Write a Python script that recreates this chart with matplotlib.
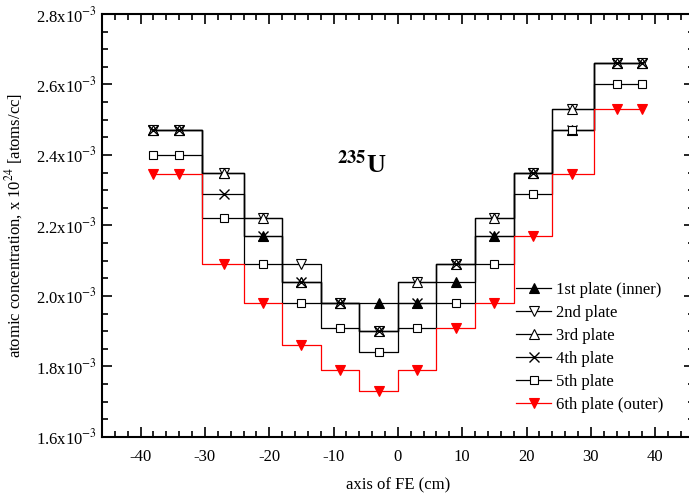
import numpy as np
import matplotlib
matplotlib.use("Agg")
import matplotlib.pyplot as plt
from matplotlib.ticker import MultipleLocator, FuncFormatter

# axial positions (cm) and U-235 concentrations (x 1e-3, atoms/cc x 1e24)
pos = [-38, -34, -27, -21, -15, -9, -3, 3, 9, 15, 21, 27, 34, 38]

plate1 = [2.47, 2.47, 2.35, 2.17, 2.04, 1.98, 1.98, 1.98, 2.04, 2.17, 2.35, 2.47, 2.66, 2.66]
plate2 = [2.47, 2.47, 2.35, 2.22, 2.09, 1.98, 1.90, 2.04, 2.09, 2.22, 2.35, 2.53, 2.66, 2.66]
plate3 = [2.47, 2.47, 2.35, 2.22, 2.04, 1.98, 1.90, 2.04, 2.09, 2.22, 2.35, 2.53, 2.66, 2.66]
plate4 = [2.47, 2.47, 2.29, 2.17, 2.04, 1.98, 1.90, 1.98, 2.09, 2.17, 2.35, 2.47, 2.66, 2.66]
plate5 = [2.40, 2.40, 2.22, 2.09, 1.98, 1.91, 1.84, 1.91, 1.98, 2.09, 2.29, 2.47, 2.60, 2.60]
plate6 = [2.345, 2.345, 2.09, 1.98, 1.86, 1.79, 1.73, 1.79, 1.91, 1.98, 2.17, 2.345, 2.53, 2.53]

labels = ["1st plate (inner)", "2nd plate", "3rd plate", "4th plate", "5th plate", "6th plate (outer)"]

plt.rcParams['font.family'] = ['Liberation Serif', 'DejaVu Serif']
plt.rcParams['mathtext.fontset'] = 'stix'
plt.rcParams['axes.unicode_minus'] = False

fig = plt.figure(figsize=(6.89, 4.97), dpi=100)
ax = fig.add_axes([0.148, 0.121, 0.859, 0.851])

x = np.array(pos)
series = [plate1, plate2, plate3, plate4, plate5, plate6]
styles = [
    dict(color='black', marker='^', mfc='black', mec='black', ms=7),
    dict(color='black', marker='v', mfc='white', mec='black', ms=7),
    dict(color='black', marker='^', mfc='white', mec='black', ms=7),
    dict(color='black', marker='x', mfc='none', mec='black', ms=7, mew=1.0),
    dict(color='black', marker='s', mfc='white', mec='black', ms=6),
    dict(color='red', marker='v', mfc='red', mec='red', ms=7),
]
for vals, lab, st in zip(series, labels, styles):
    y = np.array(vals) * 1e-3
    ax.plot(x, y, drawstyle='steps-mid', lw=0.9, label=lab, mew=st.pop('mew', 0.8), **st)

ax.set_xlim(-46, 46)
ax.set_ylim(1.6e-3, 2.8e-3)
ax.xaxis.set_major_locator(MultipleLocator(10))
ax.xaxis.set_minor_locator(MultipleLocator(2))
ax.yaxis.set_major_locator(MultipleLocator(0.2e-3))
ax.yaxis.set_minor_locator(MultipleLocator(0.05e-3))
ax.yaxis.set_major_formatter(FuncFormatter(lambda v, p: "%.1fx10$^{-3}$" % (v * 1e3)))

ax.tick_params(which='both', direction='in', top=True, right=True, labelsize=12, width=1.2)
ax.tick_params(which='major', length=7)
ax.tick_params(which='minor', length=4)
ax.tick_params(axis='x', pad=9)
for s in ax.spines.values():
    s.set_linewidth(1.5)

ax.set_xlabel("axis of FE (cm)", fontsize=12, labelpad=9)
ax.set_ylabel("atomic concentration, x 10$^{24}$ [atoms/cc]", fontsize=12, labelpad=8)

ax.text(-5.6, 2.375e-3, "$^{\\mathbf{235}}$U", fontsize=19, fontweight='bold', ha='center', va='center')

ax.legend(loc='upper left', bbox_to_anchor=(0.70, 0.366), frameon=False, fontsize=12,
          handlelength=2.1, handletextpad=0.3, labelspacing=0.42, borderpad=0, borderaxespad=0)

fig.savefig("out.png", dpi=100)
